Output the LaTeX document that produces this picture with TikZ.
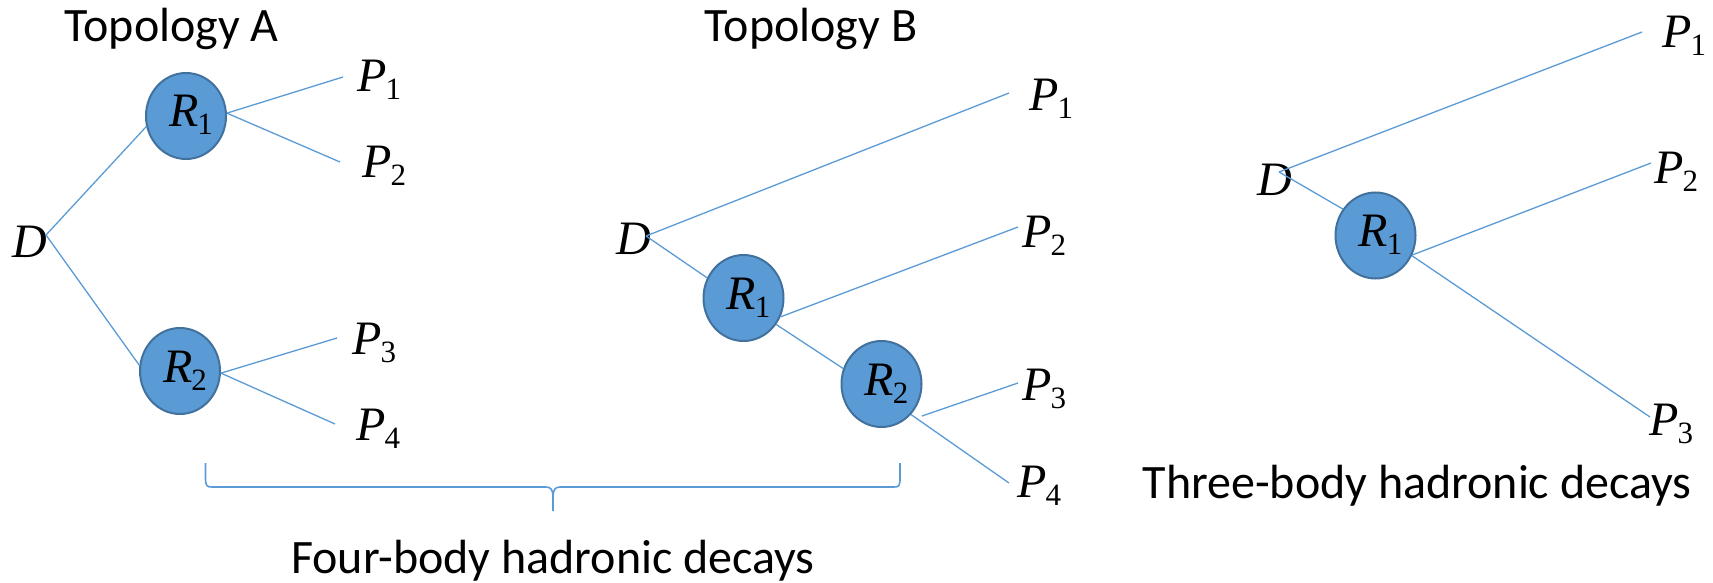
\documentclass[tikz,border=0pt]{standalone}
\usepackage{fontspec}
\newfontfamily\capfont{Carlito}
\newfontfamily\labfont{Liberation Serif}
\usetikzlibrary{shapes.geometric}
\definecolor{lineblue}{HTML}{5B9BD5}
\definecolor{fillblue}{HTML}{5B9BD5}
\definecolor{edgeblue}{HTML}{41719C}
\newcommand\plab[2]{\textit{#1}\kern-1pt\raisebox{-8pt}{\fontsize{31}{31}\selectfont #2}}
\newcommand\rlab[1]{\smash{\makebox[0pt][l]{\hspace{-17pt}\raisebox{-11pt}{\plab{R}{#1}}}}}
\begin{document}
\begin{tikzpicture}[x=1pt,y=-1pt,
  res/.style={ellipse, minimum width=80pt, minimum height=86pt, inner sep=0pt,
    fill=fillblue, draw=edgeblue, line width=2pt, font=\labfont\fontsize{48}{50}\selectfont},
  plabel/.style={anchor=base west, inner sep=0pt, font=\labfont\fontsize{48}{50}\selectfont},
  capstyle/.style={anchor=base, inner sep=0pt, font=\capfont\fontsize{48}{56}\selectfont},
  leg/.style={draw=lineblue, line width=1.3pt},
  bracestyle/.style={draw=lineblue, line width=1.6pt}]
\useasboundingbox (0,0) rectangle (1713,583);

% captions
\node[capstyle] (capA) at (171.5,42) {Topology A};
\node[capstyle] (capB) at (811,42) {Topology B};
\node[capstyle] (capF) at (553,573) {Four-body hadronic decays};
\node[capstyle] (capT) at (1417,498) {Three-body hadronic decays};

% ---------- Topology A ----------
\node[plabel] (DA) at (12,257) {\textit{D}};
\coordinate (DvA) at (46,235);
\node[res] (R1A) at (186,116) {\rlab{1}};
\node[res] (R2A) at (180,371) {\rlab{2}};
\node[plabel] (PA1) at (357,92) {\plab{P}{1}};
\node[plabel] (PA2) at (362,177) {\plab{P}{2}};
\node[plabel] (PA3) at (352,354) {\plab{P}{3}};
\node[plabel] (PA4) at (356,440) {\plab{P}{4}};
\coordinate (eA1) at (343,77);
\coordinate (eA2) at (340,162);
\coordinate (eA3) at (337,338);
\coordinate (eA4) at (335,424);
\draw[leg] (DvA) -- (R1A.195);
\draw[leg] (DvA) -- (R2A.172);
\draw[leg] (R1A.4) -- (eA1);
\draw[leg] (R1A.4) -- (eA2);
\draw[leg] (R2A.-3) -- (eA3);
\draw[leg] (R2A.-3) -- (eA4);

% ---------- Topology B ----------
\node[plabel] (DB) at (616,254) {\textit{D}};
\coordinate (DvB) at (646,236);
\node[res] (R1B) at (743.5,298) {\rlab{1}};
\node[res] (R2B) at (881.5,384) {\rlab{2}};
\node[plabel] (PB1) at (1029,111) {\plab{P}{1}};
\node[plabel] (PB2) at (1022,247) {\plab{P}{2}};
\node[plabel] (PB3) at (1022,400) {\plab{P}{3}};
\node[plabel] (PB4) at (1017,497) {\plab{P}{4}};
\coordinate (eB1) at (1009,93);
\coordinate (eB2) at (1018,227);
\coordinate (sB3) at (922,416);
\coordinate (eB3) at (1018,383);
\coordinate (eB4) at (1009,483);
\draw[leg] (DvB) -- (eB1);
\draw[leg] (DvB) -- (R1B.151);
\draw[leg] (R1B.-27) -- (eB2);
\draw[leg] (R1B.-39) -- (R2B.158);
\draw[leg] (sB3) -- (eB3);
\draw[leg] (R2B.-46) -- (eB4);

% brace
\coordinate (brL) at (205.5,463);
\coordinate (brM) at (553,511);
\coordinate (brR) at (900,463);
\draw[bracestyle] (brL) -- (205.5,478) .. controls (205.5,486) and (207,487) .. (212,487)
  -- (546,487) .. controls (551,487) and (553,490) .. (553,497) -- (brM);
\draw[bracestyle] (brR) -- (900,478) .. controls (900,486) and (899,487) .. (894,487)
  -- (560,487) .. controls (555,487) and (553,490) .. (553,497);

% ---------- Three-body ----------
\node[plabel] (DC) at (1257,195) {\textit{D}};
\coordinate (DvC) at (1279,172);
\node[res] (R1C) at (1375.5,235.5) {\rlab{1}};
\node[plabel] (PC1) at (1662,48) {\plab{P}{1}};
\node[plabel] (PC2) at (1654,183) {\plab{P}{2}};
\node[plabel] (PC3) at (1649,435) {\plab{P}{3}};
\coordinate (eC1) at (1642,32);
\coordinate (eC2) at (1651,163);
\coordinate (eC3) at (1650,417);
\draw[leg] (DvC) -- (eC1);
\draw[leg] (DvC) -- (R1C.141);
\draw[leg] (R1C.-28) -- (eC2);
\draw[leg] (R1C.-29) -- (eC3);
\end{tikzpicture}
\end{document}
